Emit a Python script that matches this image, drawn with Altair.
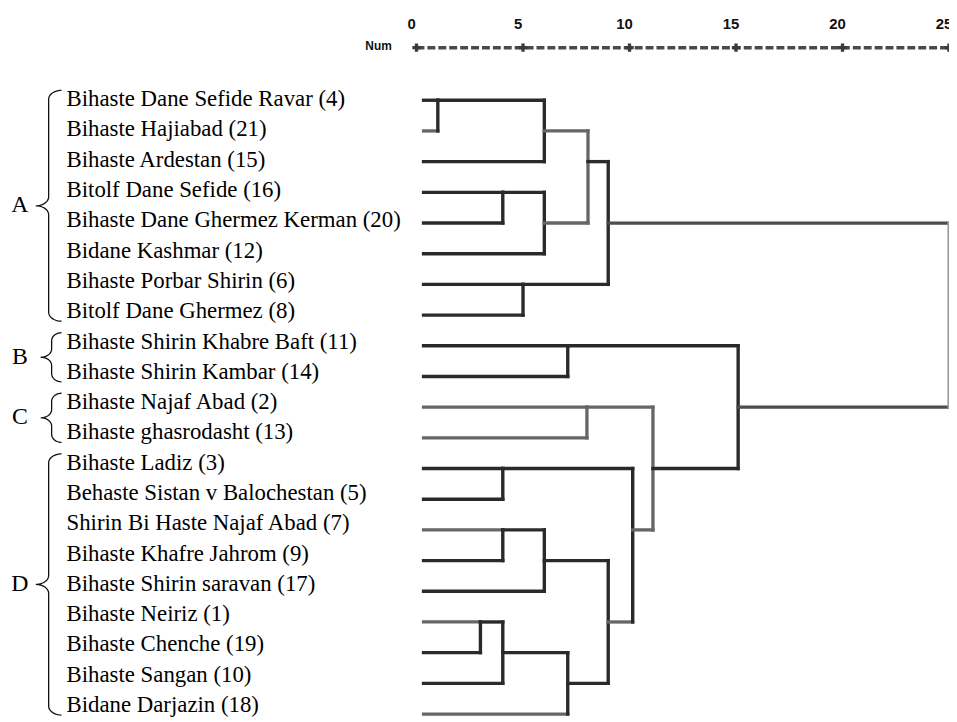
import math
import altair as alt
import pandas as pd

# ---------------- data ----------------
leaf_labels = [
    "Bihaste Dane Sefide Ravar (4)",
    "Bihaste Hajiabad (21)",
    "Bihaste Ardestan (15)",
    "Bitolf Dane Sefide (16)",
    "Bihaste Dane Ghermez Kerman (20)",
    "Bidane Kashmar (12)",
    "Bihaste Porbar Shirin (6)",
    "Bitolf Dane Ghermez (8)",
    "Bihaste Shirin Khabre Baft (11)",
    "Bihaste Shirin Kambar (14)",
    "Bihaste Najaf Abad (2)",
    "Bihaste ghasrodasht (13)",
    "Bihaste Ladiz (3)",
    "Behaste Sistan v Balochestan (5)",
    "Shirin Bi Haste Najaf Abad (7)",
    "Bihaste Khafre Jahrom (9)",
    "Bihaste Shirin saravan (17)",
    "Bihaste Neiriz (1)",
    "Bihaste Chenche (19)",
    "Bihaste Sangan (10)",
    "Bidane Darjazin (18)",
]
group_names = ["A", "B", "C", "D"]
group_first_row = [0, 8, 10, 12]
group_last_row = [7, 9, 11, 20]

# merges (SPSS rescaled distance): child a, child b, height, row where the merged line leaves
merge_a = ["L0", "N0", "L3", "N2", "N1", "L6", "N4", "L8", "L10", "L12",
           "L14", "N10", "L17", "N12", "N13", "N11", "N9", "N8", "N7", "N6"]
merge_b = ["L1", "L2", "L4", "L5", "N3", "L7", "N5", "L9", "L11", "L13",
           "L15", "L16", "L18", "L19", "L20", "N14", "N15", "N16", "N17", "N18"]
merge_height = [1.0, 6.0, 4.05, 6.0, 8.05, 5.0, 9.0, 7.1, 8.0, 4.05,
                4.05, 6.0, 3.0, 4.05, 7.1, 9.0, 10.15, 11.1, 15.1, 25.0]
merge_out_row = [0, 1, 3, 4, 2, 6, 4, 8, 10, 12,
                 14, 15, 17, 18, 19, 17, 14, 12, 10, 7]
leaf_start = 0.33

ticks = [0, 5, 10, 15, 20, 25]

# ---------------- layout helpers ----------------
W, H = 949, 714
X0, PXU = 420.0, 21.48      # page x of distance 0, pixels per unit
Y0, ROWPX = 98.0, 30.95     # page y of first dendrogram row, pixels per row
TY0, TROWPX = 97.0, 30.55   # page y of first label row, pixels per label row


def px_x(p):
    return (p - X0) / PXU


def px_y(p):
    return (p - Y0) / ROWPX


def text_row(r):
    return px_y(TY0 + TROWPX * r)


x_scale = alt.Scale(domain=[px_x(8), px_x(8 + W)], nice=False, zero=False)
y_scale = alt.Scale(domain=[px_y(8), px_y(8 + H)], nice=False, zero=False, reverse=True)

# ---------------- dendrogram segments ----------------
height = {f"L{i}": leaf_start for i in range(len(leaf_labels))}
rowpos = {f"L{i}": i for i in range(len(leaf_labels))}
segs = []
for k, (a, b, h, r) in enumerate(zip(merge_a, merge_b, merge_height, merge_out_row)):
    nid = f"N{k}"
    for c in (a, b):
        segs.append(dict(x=height[c], x2=h, y=rowpos[c], y2=rowpos[c], id="h_" + c))
    segs.append(dict(x=h, x2=h, y=min(rowpos[a], rowpos[b]), y2=max(rowpos[a], rowpos[b]), id="v_" + nid))
    height[nid] = h
    rowpos[nid] = r

grey_ids = {"h_N1", "v_N4", "h_N3", "h_L10", "h_L11", "v_N8", "h_N8", "v_N17",
            "h_L14", "h_L17", "h_L20", "h_N15", "h_N16", "h_L1"}
root_ids = {"h_N6", "h_N18"}
for s in segs:
    if s["id"] == "v_N19":
        s["tone"] = "rootv"
    elif s["id"] in root_ids:
        s["tone"] = "root"
    elif s["id"] in grey_ids:
        s["tone"] = "grey"
    else:
        s["tone"] = "dark"
seg_df = pd.DataFrame(segs)

tones = ["dark", "grey", "root", "rootv"]
tone_colors = ["#2a2a2a", "#666666", "#4d4d4d", "#9a9a9a"]
tone_widths = [3.4, 3.2, 2.6, 1.4]

dendro = alt.Chart(seg_df).mark_rule(strokeCap="square").encode(
    x=alt.X("x:Q", scale=x_scale, axis=None),
    x2="x2:Q",
    y=alt.Y("y:Q", scale=y_scale, axis=None),
    y2="y2:Q",
    color=alt.Color("tone:N", scale=alt.Scale(domain=tones, range=tone_colors), legend=None),
    strokeWidth=alt.StrokeWidth("tone:N", scale=alt.Scale(domain=tones, range=tone_widths), legend=None),
)

# ---------------- leaf labels ----------------
lab_df = pd.DataFrame({"label": leaf_labels,
                       "row": [text_row(i) for i in range(len(leaf_labels))],
                       "x": [px_x(67)] * len(leaf_labels)})
labels = alt.Chart(lab_df).mark_text(
    align="left", baseline="middle", font="Liberation Serif", fontSize=23, color="#000000"
).encode(
    x=alt.X("x:Q", scale=x_scale, axis=None),
    y=alt.Y("row:Q", scale=y_scale, axis=None),
    text="label:N",
)

# ---------------- group letters and braces ----------------
grp_df = pd.DataFrame({
    "g": group_names,
    "row": [text_row((a + b) / 2) for a, b in zip(group_first_row, group_last_row)],
    "x": [px_x(20)] * len(group_names),
})
letters = alt.Chart(grp_df).mark_text(
    align="center", baseline="middle", font="Liberation Serif", fontSize=24, color="#000000"
).encode(
    x=alt.X("x:Q", scale=x_scale, axis=None),
    y=alt.Y("row:Q", scale=y_scale, axis=None),
    text="g:N",
)

brace_pts = []
for g, r0, r1 in zip(group_names, group_first_row, group_last_row):
    top = TY0 + r0 * TROWPX - 9
    bot = TY0 + r1 * TROWPX + 10
    ym = (top + bot) / 2
    span = bot - top
    big = span > 100
    xr, xs, xt = 62.0, (49.0 if big else 52.0), (36.0 if big else 41.0)
    rr = min(9.0, span / 6)
    pts = []
    n = 10
    for i in range(n + 1):
        t = -math.pi / 2 - (math.pi / 2) * i / n
        pts.append((xr + (xr - xs) * math.cos(t), top + rr + rr * math.sin(t)))
    pts.append((xs, ym - rr))
    for i in range(n + 1):
        t = (math.pi / 2) * i / n
        pts.append((xt + (xs - xt) * math.cos(t), ym - rr + rr * math.sin(t)))
    for i in range(n + 1):
        t = -math.pi / 2 + (math.pi / 2) * i / n
        pts.append((xt + (xs - xt) * math.cos(t), ym + rr + rr * math.sin(t)))
    pts.append((xs, bot - rr))
    for i in range(n + 1):
        t = math.pi - (math.pi / 2) * i / n
        pts.append((xr + (xr - xs) * math.cos(t), bot - rr + rr * math.sin(t)))
    for j, (px, py) in enumerate(pts):
        brace_pts.append(dict(g=g, o=j, x=px_x(px), y=px_y(py)))
brace_df = pd.DataFrame(brace_pts)
braces = alt.Chart(brace_df).mark_line(color="#111111", strokeWidth=1.3).encode(
    x=alt.X("x:Q", scale=x_scale, axis=None),
    y=alt.Y("y:Q", scale=y_scale, axis=None),
    detail="g:N",
    order="o:Q",
)

# ---------------- top scale ----------------
tick_df = pd.DataFrame({"t": ticks, "lab": [str(t) for t in ticks]})
axis_line = alt.Chart(pd.DataFrame({"a": [ticks[0]], "b": [ticks[-1]]})).mark_rule(
    color="#4a4a4a", strokeWidth=3.5, strokeDash=[8, 3]
).encode(
    x=alt.X("a:Q", scale=x_scale, axis=None),
    x2="b:Q",
    y=alt.value(45 - 8),
)
tick_marks = alt.Chart(tick_df).mark_point(shape="cross", filled=True, size=70, color="#3a3a3a", opacity=1).encode(
    x=alt.X("t:Q", scale=x_scale, axis=None),
    y=alt.value(45 - 8),
)
tick_labels = alt.Chart(tick_df).mark_text(
    align="center", baseline="middle", font="Liberation Sans", fontWeight="bold", fontSize=15,
    color="#111111", dx=-5
).encode(
    x=alt.X("t:Q", scale=x_scale, axis=None),
    y=alt.value(21 - 8),
    text="lab:N",
)
num_label = alt.Chart(pd.DataFrame({"n": ["Num"]})).mark_text(
    align="right", baseline="middle", font="Liberation Sans", fontWeight="bold", fontSize=12, color="#111111"
).encode(
    x=alt.value(395 - 8),
    y=alt.value(43 - 8),
    text="n:N",
)

chart = alt.layer(
    axis_line, tick_marks, tick_labels, num_label, dendro, labels, letters, braces
).properties(
    width=W, height=H, padding=0, background="white",
    autosize=alt.AutoSizeParams(type="none")
).configure_view(stroke=None)

chart.save("out.html", embed_options={"renderer": "svg", "actions": False})
